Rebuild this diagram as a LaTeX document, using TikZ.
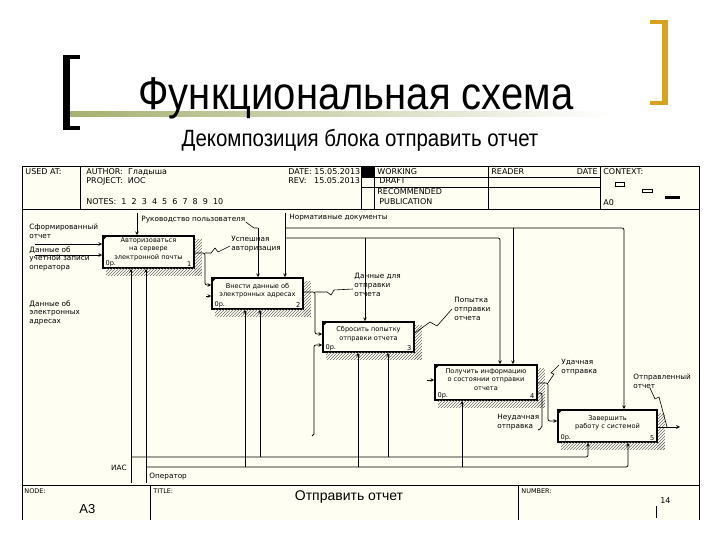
\documentclass[tikz,border=0pt]{standalone}
\usepackage{fontspec}
\setmainfont{Liberation Sans}
\newfontfamily\idefont{DejaVu Sans}
\newfontfamily\slidefont[FakeStretch=0.87]{Liberation Sans}
\usepackage{tikz}
\usetikzlibrary{arrows,patterns,calc}
\definecolor{idbg}{RGB}{255,254,242}
\definecolor{idgold}{RGB}{214,162,32}
\definecolor{idolive}{RGB}{165,176,112}
\definecolor{idshade}{RGB}{110,110,110}
\tikzstyle{fbox} = [rectangle, draw, line width=1.6pt, fill=idbg, inner sep=0pt]
\tikzstyle{btext} = [align=center, inner sep=0pt, font=\idefont\fontsize{6.6}{8.4}\selectfont]
\tikzstyle{lbl} = [align=left, inner sep=0pt, anchor=north west, font=\idefont\fontsize{7.3}{8.7}\selectfont]
\tikzstyle{hdr} = [inner sep=0pt, anchor=base west, font=\idefont\fontsize{8}{9}\selectfont]
\tikzstyle{ftr} = [inner sep=0pt, anchor=base west, font=\idefont\fontsize{6.5}{7}\selectfont]
\tikzstyle{arrow} = [line width=0.7pt, ->, >=stealth, rounded corners=2pt]
\tikzstyle{squig} = [line width=0.6pt]
\tikzstyle{hatch} = [pattern=north east lines, pattern color=idshade]

\begin{document}
\begin{tikzpicture}[x=1pt, y=-1pt, line width=0.8pt]
\useasboundingbox (0,0) rectangle (720,540);

% Slide title
\fill (63,55) rectangle (70,130);
\fill (63,55) rectangle (80,59);
\fill (63,126) rectangle (80,130);
\fill[idgold] (662,20) rectangle (668,105);
\fill[idgold] (650,20) rectangle (668,24);
\fill[idgold] (650,101) rectangle (668,105);
\shade[left color=idolive, right color=white] (70,112) rectangle (610,117);
\node[inner sep=0pt, anchor=base, font=\slidefont\fontsize{46}{50}\selectfont] (title) at (356,110) {Функциональная схема};
\node[inner sep=0pt, anchor=base, font=\slidefont\fontsize{23.5}{25}\selectfont] (subtitle) at (360,147) {Декомпозиция блока отправить отчет};

% IDEF0 frame
\fill[idbg] (22,166) rectangle (699,520);
\draw (22,520) -- (22,166) -- (699,166) -- (699,520);
\draw (22,209) -- (699,209);
\draw (80,166) -- (80,209);
\draw (361,166) -- (361,209);
\draw (374,166) -- (374,209);
\draw (488,166) -- (488,209);
\draw (600,166) -- (600,209);
\draw (361,177) -- (600,177);
\draw (361,187) -- (600,187);
\fill (361,166) rectangle (374,177);
\draw (22,485) -- (699,485);
\draw (150,485) -- (150,520);
\draw (518,485) -- (518,520);

% Header
\node[hdr] (usedat) at (25,175) {USED AT:};
\node[hdr] (author) at (86,175) {AUTHOR:\ \ Гладыша};
\node[hdr] (project) at (86,184) {PROJECT:\ \ ИОС};
\node[hdr] (notes) at (86,205) {NOTES:\ \ 1\ \ 2\ \ 3\ \ 4\ \ 5\ \ 6\ \ 7\ \ 8\ \ 9\ \ 10};
\node[hdr] (date) at (288,175) {DATE: 15.05.2013};
\node[hdr] (rev) at (288,184) {REV:\ \ \ 15.05.2013};
\node[hdr] (working) at (377,175) {WORKING};
\node[hdr] (draft) at (379,184) {DRAFT};
\node[hdr] (recom) at (377,195) {RECOMMENDED};
\node[hdr] (public) at (379,205) {PUBLICATION};
\node[hdr] (reader) at (491,175) {READER};
\node[hdr, anchor=base east] (rdate) at (598,175) {DATE};
\node[hdr] (context) at (603,175) {CONTEXT:};
\node[hdr] (ctxnode) at (603,206) {A0};
\draw (615,182) rectangle (624,186);
\draw (642,189) rectangle (652,192);
\fill (665,196) rectangle (680,199);

% Footer
\node[ftr] (node) at (24,493) {NODE:};
\node[inner sep=0pt, anchor=base west, font=\fontsize{13}{14}\selectfont] (nodeno) at (79,513) {A3};
\node[ftr] (ttl) at (153,493) {TITLE:};
\node[inner sep=0pt, anchor=base, font=\fontsize{14}{15}\selectfont] (ftitle) at (349,500) {Отправить отчет};
\node[ftr] (number) at (521,493) {NUMBER:};
\node[inner sep=0pt, anchor=base west, font=\idefont\fontsize{8}{9}\selectfont] (page) at (660,503) {14};
\draw (656,506) -- (656,518);

% Function blocks
\node[fbox, minimum width=91pt, minimum height=32pt] (b1) at (148.5,252) {};
\node[fbox, minimum width=91pt, minimum height=31pt] (b2) at (257.5,293.5) {};
\node[fbox, minimum width=91pt, minimum height=30pt] (b3) at (368.5,337) {};
\node[fbox, minimum width=102pt, minimum height=35pt] (b4) at (486,382.5) {};
\node[fbox, minimum width=99pt, minimum height=32pt] (b5) at (607.5,426) {};
\node[btext] (t1) at ($(b1.center)+(0,-3)$) {Авторизоваться\\на сервере\\электронной почты};
\node[btext] (t2) at ($(b2.center)+(0,-3)$) {Внести данные об\\электронных адресах};
\node[btext] (t3) at ($(b3.center)+(0,-3)$) {Сбросить попытку\\отправки отчета};
\node[btext] (t4) at ($(b4.center)+(0,-3)$) {Получить информацию\\о состоянии отправки\\отчета};
\node[btext] (t5) at ($(b5.center)+(0,-3)$) {Завершить\\работу с системой};
\foreach \b/\n in {b1/1,b2/2,b3/3,b4/4,b5/5} {
  \fill[hatch] ([shift={(0,4)}]\b.north east) rectangle ([shift={(7,7)}]\b.south east);
  \fill[hatch] ([shift={(4,0)}]\b.south west) rectangle ([shift={(7,7)}]\b.south east);
  \fill ([shift={(1,1)}]\b.north west) -- ++(4,0) -- ++(-4,4) -- cycle;
  \node[btext, anchor=south west] (\b-cost) at ([shift={(3,-2)}]\b.south west) {0р.};
  \node[btext, anchor=south east] (\b-num) at ([shift={(-3,-2)}]\b.south east) {\n};
}

% Inputs
\node[lbl] (lin1) at (29,224) {Сформированный\\отчет};
\node[lbl] (lin2) at (29,246) {Данные об\\учетной записи\\оператора};
\node[lbl] (lin3) at (29,300) {Данные об\\электронных\\адресах};
\draw[arrow] (35,244) -- (b1.west |- 0,244);
\draw[arrow] (35,255) -- (b1.west |- 0,255);
\draw[arrow] (206,296) -- (b2.west |- 0,296);
\draw[arrow] (427,380) -- (b4.west |- 0,380);

% Controls
\node[lbl, anchor=base west] (lguide) at (141,222) {Руководство пользователя};
\node[lbl, anchor=base west] (lnorm) at (289,219) {Нормативные документы};
\coordinate (nd) at (285,213);
\draw[arrow] (137,213) -- (b1.north -| 137,0);
\draw[squig] (lguide.base east) -- (254,228) -- (258,228);
\draw[arrow] (258,228) -- (b2.north -| 258,0);
\draw[arrow] (nd) -- (nd |- b2.north);
\draw[arrow] (nd |- 0,238) -| (b4.north -| 500,0);
\draw[arrow] (365,238) -- (b3.north -| 365,0);
\draw[arrow] (nd |- 0,228) -| (b5.north -| 624,0);
\draw[arrow] (513,228) -- (b4.north -| 513,0);

% Outputs
\node[lbl] (lauth) at (231,236) {Успешная\\авторизация};
\node[lbl] (ldata) at (354,273) {Данные для\\отправки\\отчета};
\node[lbl] (ltry) at (454,297) {Попытка\\отправки\\отчета};
\node[lbl] (lok) at (561,359) {Удачная\\отправка};
\node[lbl] (lfail) at (497,414) {Неудачная\\отправка};
\node[lbl] (lsent) at (633,374) {Отправленный\\отчет};
\draw[arrow] (b1.east |- 0,253) -- (205,253) |- (b2.west |- 0,285);
\draw[squig] (205,253) -- (211,253) -- (215,248) -- (218,252) -- (230,246);
\draw[arrow] (b2.east |- 0,292) -- (315,292) |- (b3.west |- 0,334);
\draw[squig] (315,292) -- (327,292) -- (331,295) -- (334,290) -- (353,289);
\draw[arrow] (314,434) |- (b3.west |- 0,345);
\draw (312,436) -- (314,434);
\draw[squig] (b3.east |- 0,333) -- (430,322) -- (437,326) -- (452,309);
\draw[arrow] (b4.east |- 0,383) -- (548,383) |- (b5.west |- 0,421);
\draw[squig] (548,383) -- (554,374) -- (551,373) -- (559,365);
\draw[rounded corners=2pt, line width=0.7pt] (b4.east |- 0,393) -- (542,393) -- (542,428) -- (538,430);
\coordinate (sent) at (680,427);
\draw[arrow] (b5.east |- 0,427) -- (sent);
\draw[squig] (650,388) -- (655,399) -- (659,397) -- (667,427);

% Mechanisms
\node[lbl, anchor=base east] (lias) at (127,470) {ИАС};
\node[lbl, anchor=base west] (loper) at (149,478) {Оператор};
\coordinate (ias) at (131,483);
\coordinate (opr) at (146,483);
\draw[arrow] (ias) -- (ias |- b1.south);
\draw[arrow] (opr) -- (opr |- b1.south);
\draw[arrow] (ias |- 0,457) -| (b5.south -| 588,0);
\draw[arrow] (opr |- 0,467) -| (b5.south -| 628,0);
\foreach \b/\xx in {b2/260, b3/388}
  \draw[arrow] (\xx,457) -- (\b.south -| \xx,0);
\foreach \b/\xx in {b2/245, b3/358, b4/462}
  \draw[arrow] (\xx,467) -- (\b.south -| \xx,0);
\end{tikzpicture}
\end{document}
